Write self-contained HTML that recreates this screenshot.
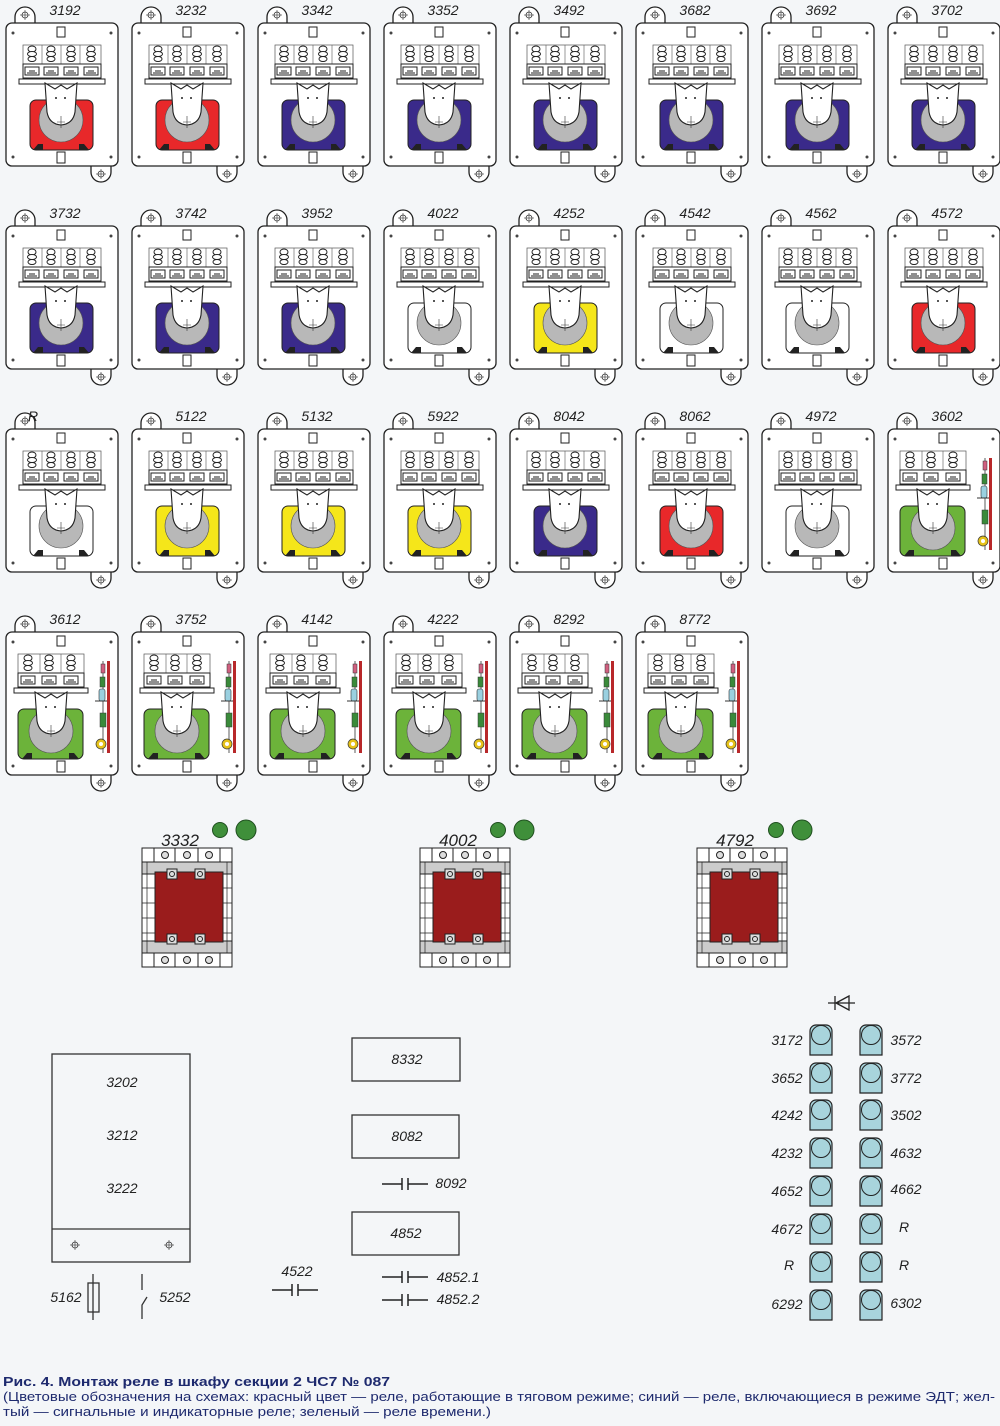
<!DOCTYPE html>
<html><head><meta charset="utf-8"><style>
html,body{margin:0;padding:0;background:#f4f6f8}
svg{display:block}
.l{font-family:"Liberation Sans","DejaVu Sans",sans-serif;font-style:italic;font-size:14px;fill:#222;text-anchor:middle}
.c{font-family:"Liberation Sans",sans-serif;fill:#1e2a6e}
</style></head><body>
<svg width="1000" height="1426" viewBox="0 0 1000 1426" xmlns="http://www.w3.org/2000/svg">
<defs>
<g id="cross"><circle r="3" fill="none" stroke="#333" stroke-width="0.8"/><line x1="-5" x2="5" stroke="#333" stroke-width="0.6"/><line y1="-5" y2="5" stroke="#333" stroke-width="0.6"/></g>
<g id="frame" stroke="#222" stroke-width="1.3">
 <path d="M12,25 v-8 a10,10 0 0 1 20,0 v8" fill="#fff"/>
 <path d="M88,164 v8 a10,10 0 0 0 20,0 v-8" fill="#fff"/>
 <rect x="3" y="23" width="112" height="143" rx="6" fill="#fff"/>
 <rect x="54" y="27" width="8" height="10" fill="#fff" stroke-width="1"/>
 <rect x="54" y="152" width="8" height="11" fill="#fff" stroke-width="1"/>
 <use href="#cross" x="22" y="15"/><use href="#cross" x="98" y="174"/>
 <circle cx="10" cy="33" r="1.5" fill="#444" stroke="none"/><circle cx="108" cy="33" r="1.5" fill="#444" stroke="none"/>
 <circle cx="10" cy="157" r="1.5" fill="#444" stroke="none"/><circle cx="108" cy="157" r="1.5" fill="#444" stroke="none"/>
</g>
<g id="term" stroke="#222" stroke-width="1" fill="#fff">
 <ellipse cx="0" cy="49" rx="4" ry="3"/><ellipse cx="0" cy="54" rx="4.5" ry="2.5"/><ellipse cx="0" cy="59" rx="4" ry="2.5"/>
 <rect x="-7" y="67" width="14" height="8"/><path d="M-5,73 h10 M-3,71 h6" fill="none"/>
</g>
<g id="relay4">
 <use href="#frame"/>
 <rect x="20" y="45" width="78" height="19" fill="none" stroke="#555" stroke-width="0.7"/>
 <path d="M39,45 v19 M58,45 v19 M77,45 v19" stroke="#555" stroke-width="0.6"/>
 <use href="#term" x="29"/><use href="#term" x="48"/><use href="#term" x="68"/><use href="#term" x="88"/>
 <rect x="20" y="64" width="78" height="14" fill="none" stroke="#222" stroke-width="1"/>
 <rect x="16" y="79" width="86" height="5" fill="#fff" stroke="#222" stroke-width="1"/>
 <rect x="27" y="100" width="63" height="50" rx="6" fill="currentColor" stroke="#222" stroke-width="1"/>
 <circle cx="58" cy="120" r="22" fill="#b8b8b8" stroke="#555" stroke-width="0.6"/>
 <path d="M30,150 l5,-6 h5 l0,6z M86,150 l-5,-6 h-5 l0,6z" fill="#222"/>
 <path d="M42,83 L52,89 L58,85 L64,89 L74,83 L72,112 Q70,124 58,125 Q46,124 44,112 Z" fill="#fff" stroke="#222" stroke-width="1.1"/>
 <circle cx="53" cy="98" r="1" fill="#222"/><circle cx="62" cy="98" r="1" fill="#222"/>
 <path d="M58,116 v12 M54,122 h8" stroke="#333" stroke-width="0.6"/>
</g>
<g id="relay3">
 <use href="#frame"/>
 <rect x="15" y="45" width="66" height="19" fill="none" stroke="#555" stroke-width="0.7"/>
 <path d="M37,45 v19 M58,45 v19" stroke="#555" stroke-width="0.6"/>
 <use href="#term" x="25"/><use href="#term" x="46"/><use href="#term" x="68"/>
 <rect x="15" y="64" width="66" height="14" fill="none" stroke="#222" stroke-width="1"/>
 <rect x="11" y="79" width="74" height="5" fill="#fff" stroke="#222" stroke-width="1"/>
 <rect x="15" y="100" width="65" height="50" rx="6" fill="#6cb33a" stroke="#222" stroke-width="1"/>
 <circle cx="48" cy="122" r="22" fill="#b8b8b8" stroke="#555" stroke-width="0.6"/>
 <path d="M19,150 l5,-6 h5 l0,6z M76,150 l-5,-6 h-5 l0,6z" fill="#222"/>
 <path d="M32,83 L42,89 L48,85 L54,89 L64,83 L62,112 Q60,124 48,125 Q36,124 34,112 Z" fill="#fff" stroke="#222" stroke-width="1.1"/>
 <circle cx="43" cy="98" r="1" fill="#222"/><circle cx="52" cy="98" r="1" fill="#222"/>
 <path d="M48,116 v12 M44,122 h8" stroke="#333" stroke-width="0.6"/>
 <rect x="104" y="52" width="3" height="92" fill="#b8282a"/>
 <path d="M100,52 v92" stroke="#333" stroke-width="0.8"/>
 <rect x="98" y="55" width="4" height="9" fill="#d06080" stroke="#333" stroke-width="0.5"/>
 <rect x="97" y="68" width="5" height="10" fill="#3a8a3a" stroke="#333" stroke-width="0.5"/>
 <rect x="96" y="80" width="6" height="12" rx="2" fill="#9ad0e0" stroke="#333" stroke-width="0.6"/>
 <path d="M92,92 h12" stroke="#333"/>
 <rect x="97" y="104" width="6" height="14" fill="#3a8a3a" stroke="#333" stroke-width="0.5"/>
 <circle cx="98" cy="135" r="5" fill="#e6c21a" stroke="#333" stroke-width="0.7"/><circle cx="98" cy="135" r="2" fill="#fff"/>
</g>
<g id="cont" stroke="#222" stroke-width="1">
 <rect x="0" y="0" width="90" height="119" fill="#fff"/>
 <rect x="0" y="0" width="90" height="14" fill="#fff"/><rect x="0" y="105" width="90" height="14" fill="#fff"/>
 <path d="M12,0 v14 M33,0 v14 M56,0 v14 M78,0 v14 M12,105 v14 M33,105 v14 M56,105 v14 M78,105 v14"/>
 <circle cx="23" cy="7" r="3.5" fill="#ddd"/><circle cx="45" cy="7" r="3.5" fill="#ddd"/><circle cx="67" cy="7" r="3.5" fill="#ddd"/>
 <circle cx="23" cy="112" r="3.5" fill="#ddd"/><circle cx="45" cy="112" r="3.5" fill="#ddd"/><circle cx="67" cy="112" r="3.5" fill="#ddd"/>
 <rect x="0" y="14" width="90" height="12" fill="#ccc"/><rect x="0" y="93" width="90" height="12" fill="#ccc"/>
 <path d="M0,40 h90 M0,55 h90 M0,70 h90 M0,85 h90 M5,14 v91 M85,14 v91" stroke-width="0.7"/>
 <rect x="13" y="24" width="68" height="70" fill="#9a1c1c"/>
 <rect x="25" y="21" width="10" height="10" fill="#ddd"/><rect x="53" y="21" width="10" height="10" fill="#ddd"/>
 <rect x="25" y="86" width="10" height="10" fill="#ddd"/><rect x="53" y="86" width="10" height="10" fill="#ddd"/>
 <circle cx="30" cy="26" r="2.5" fill="none"/><circle cx="58" cy="26" r="2.5" fill="none"/>
 <circle cx="30" cy="91" r="2.5" fill="none"/><circle cx="58" cy="91" r="2.5" fill="none"/>
</g>
<g id="diode"><path d="M0,30 v-24 a6,6 0 0 1 6,-6 h10 a6,6 0 0 1 6,6 v24 z" fill="#a8d4dc" stroke="#222" stroke-width="1.2"/><circle cx="11" cy="10" r="9.5" fill="#a8d4dc" stroke="#222" stroke-width="1"/></g>
<g id="cap" stroke="#222" stroke-width="1.5"><path d="M0,0 h20 M20,-6 v12 M26,-6 v12 M26,0 h20"/></g>
</defs>

<g transform="translate(3,0)" color="#e8282a"><use href="#relay4"/><text class="l" x="62" y="15">3192</text></g>
<g transform="translate(129,0)" color="#e8282a"><use href="#relay4"/><text class="l" x="62" y="15">3232</text></g>
<g transform="translate(255,0)" color="#3a2a8a"><use href="#relay4"/><text class="l" x="62" y="15">3342</text></g>
<g transform="translate(381,0)" color="#3a2a8a"><use href="#relay4"/><text class="l" x="62" y="15">3352</text></g>
<g transform="translate(507,0)" color="#3a2a8a"><use href="#relay4"/><text class="l" x="62" y="15">3492</text></g>
<g transform="translate(633,0)" color="#3a2a8a"><use href="#relay4"/><text class="l" x="62" y="15">3682</text></g>
<g transform="translate(759,0)" color="#3a2a8a"><use href="#relay4"/><text class="l" x="62" y="15">3692</text></g>
<g transform="translate(885,0)" color="#3a2a8a"><use href="#relay4"/><text class="l" x="62" y="15">3702</text></g>
<g transform="translate(3,203)" color="#3a2a8a"><use href="#relay4"/><text class="l" x="62" y="15">3732</text></g>
<g transform="translate(129,203)" color="#3a2a8a"><use href="#relay4"/><text class="l" x="62" y="15">3742</text></g>
<g transform="translate(255,203)" color="#3a2a8a"><use href="#relay4"/><text class="l" x="62" y="15">3952</text></g>
<g transform="translate(381,203)" color="#ffffff"><use href="#relay4"/><text class="l" x="62" y="15">4022</text></g>
<g transform="translate(507,203)" color="#f5e61a"><use href="#relay4"/><text class="l" x="62" y="15">4252</text></g>
<g transform="translate(633,203)" color="#ffffff"><use href="#relay4"/><text class="l" x="62" y="15">4542</text></g>
<g transform="translate(759,203)" color="#ffffff"><use href="#relay4"/><text class="l" x="62" y="15">4562</text></g>
<g transform="translate(885,203)" color="#e8282a"><use href="#relay4"/><text class="l" x="62" y="15">4572</text></g>
<g transform="translate(3,406)" color="#ffffff"><use href="#relay4"/><text class="l" x="30" y="15">R</text></g>
<g transform="translate(129,406)" color="#f5e61a"><use href="#relay4"/><text class="l" x="62" y="15">5122</text></g>
<g transform="translate(255,406)" color="#f5e61a"><use href="#relay4"/><text class="l" x="62" y="15">5132</text></g>
<g transform="translate(381,406)" color="#f5e61a"><use href="#relay4"/><text class="l" x="62" y="15">5922</text></g>
<g transform="translate(507,406)" color="#3a2a8a"><use href="#relay4"/><text class="l" x="62" y="15">8042</text></g>
<g transform="translate(633,406)" color="#e8282a"><use href="#relay4"/><text class="l" x="62" y="15">8062</text></g>
<g transform="translate(759,406)" color="#ffffff"><use href="#relay4"/><text class="l" x="62" y="15">4972</text></g>
<g transform="translate(885,406)"><use href="#relay3"/><text class="l" x="62" y="15">3602</text></g>
<g transform="translate(3,609)"><use href="#relay3"/><text class="l" x="62" y="15">3612</text></g>
<g transform="translate(129,609)"><use href="#relay3"/><text class="l" x="62" y="15">3752</text></g>
<g transform="translate(255,609)"><use href="#relay3"/><text class="l" x="62" y="15">4142</text></g>
<g transform="translate(381,609)"><use href="#relay3"/><text class="l" x="62" y="15">4222</text></g>
<g transform="translate(507,609)"><use href="#relay3"/><text class="l" x="62" y="15">8292</text></g>
<g transform="translate(633,609)"><use href="#relay3"/><text class="l" x="62" y="15">8772</text></g>

<g transform="translate(142,848)"><use href="#cont"/></g>
<text class="l" x="180" y="846" style="font-size:17px">3332</text>
<circle cx="220" cy="830" r="7.5" fill="#3f8f3a" stroke="#1f4f1f"/><circle cx="246" cy="830" r="10" fill="#3f8f3a" stroke="#1f4f1f"/>
<g transform="translate(420,848)"><use href="#cont"/></g>
<text class="l" x="458" y="846" style="font-size:17px">4002</text>
<circle cx="498" cy="830" r="7.5" fill="#3f8f3a" stroke="#1f4f1f"/><circle cx="524" cy="830" r="10" fill="#3f8f3a" stroke="#1f4f1f"/>
<g transform="translate(697,848)"><use href="#cont"/></g>
<text class="l" x="735" y="846" style="font-size:17px">4792</text>
<circle cx="776" cy="830" r="7.5" fill="#3f8f3a" stroke="#1f4f1f"/><circle cx="802" cy="830" r="10" fill="#3f8f3a" stroke="#1f4f1f"/>

<g stroke="#333" stroke-width="1.3" fill="none">
 <rect x="52" y="1054" width="138" height="208"/><path d="M52,1229 h138"/>
 <rect x="352" y="1038" width="108" height="43"/>
 <rect x="352" y="1115" width="107" height="43"/>
 <rect x="352" y="1212" width="107" height="43"/>
 <path d="M93,1274 v46"/><rect x="88" y="1283" width="11" height="29"/>
 <path d="M142,1274 v16 M142,1319 v-14 l5,-8"/>
</g>
<use href="#cross" x="75" y="1245"/><use href="#cross" x="169" y="1245"/>
<text class="l" x="122" y="1087">3202</text><text class="l" x="122" y="1140">3212</text><text class="l" x="122" y="1193">3222</text>
<text class="l" x="66" y="1302">5162</text><text class="l" x="175" y="1302">5252</text>
<text class="l" x="407" y="1064">8332</text><text class="l" x="407" y="1141">8082</text><text class="l" x="406" y="1238">4852</text>
<g transform="translate(382,1184)"><use href="#cap"/></g><text class="l" x="451" y="1188">8092</text>
<g transform="translate(272,1290)"><use href="#cap"/></g><text class="l" x="297" y="1276">4522</text>
<g transform="translate(382,1277)"><use href="#cap"/></g><text class="l" x="458" y="1282">4852.1</text>
<g transform="translate(382,1300)"><use href="#cap"/></g><text class="l" x="458" y="1304">4852.2</text>

<g stroke="#222" stroke-width="1.3" fill="none"><path d="M828,1003 h27 M835,996 v14 M836,1003 l13,-7 v14 z"/></g>
<g>
<use href="#diode" x="810" y="1025"/><use href="#diode" x="860" y="1025"/>
<use href="#diode" x="810" y="1063"/><use href="#diode" x="860" y="1063"/>
<use href="#diode" x="810" y="1100"/><use href="#diode" x="860" y="1100"/>
<use href="#diode" x="810" y="1138"/><use href="#diode" x="860" y="1138"/>
<use href="#diode" x="810" y="1176"/><use href="#diode" x="860" y="1176"/>
<use href="#diode" x="810" y="1214"/><use href="#diode" x="860" y="1214"/>
<use href="#diode" x="810" y="1252"/><use href="#diode" x="860" y="1252"/>
<use href="#diode" x="810" y="1290"/><use href="#diode" x="860" y="1290"/>
</g>
<text class="l" x="787" y="1045">3172</text><text class="l" x="906" y="1045">3572</text>
<text class="l" x="787" y="1083">3652</text><text class="l" x="906" y="1083">3772</text>
<text class="l" x="787" y="1120">4242</text><text class="l" x="906" y="1120">3502</text>
<text class="l" x="787" y="1158">4232</text><text class="l" x="906" y="1158">4632</text>
<text class="l" x="787" y="1196">4652</text><text class="l" x="906" y="1194">4662</text>
<text class="l" x="787" y="1234">4672</text><text class="l" x="904" y="1232">R</text>
<text class="l" x="789" y="1270">R</text><text class="l" x="904" y="1270">R</text>
<text class="l" x="787" y="1309">6292</text><text class="l" x="906" y="1308">6302</text>

<text class="c" x="3" y="1386" font-size="13" font-weight="bold" textLength="387" lengthAdjust="spacingAndGlyphs">Рис. 4. Монтаж реле в шкафу секции 2 ЧС7 № 087</text>
<text class="c" x="3" y="1401" font-size="12.5" textLength="992" lengthAdjust="spacingAndGlyphs">(Цветовые обозначения на схемах: красный цвет — реле, работающие в тяговом режиме; синий — реле, включающиеся в режиме ЭДТ; жел-</text>
<text class="c" x="3" y="1416" font-size="12.5" textLength="488" lengthAdjust="spacingAndGlyphs">тый — сигнальные и индикаторные реле; зеленый — реле времени.)</text>
</svg>
</body></html>
